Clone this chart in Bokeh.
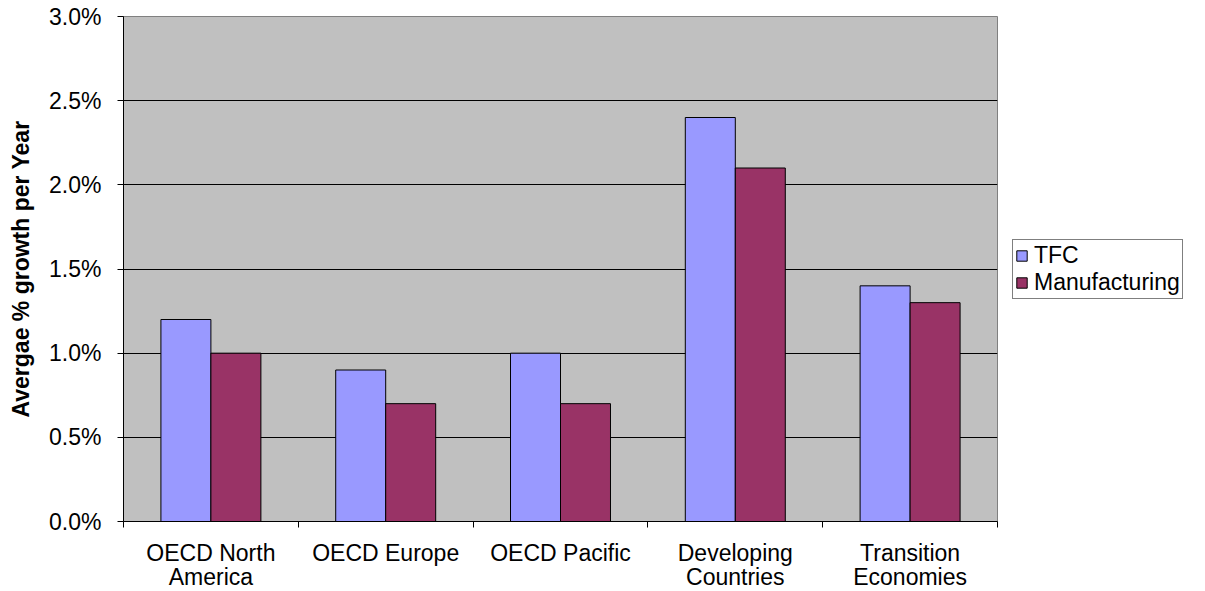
from bokeh.plotting import figure
from bokeh.models import ColumnDataSource, FixedTicker, PrintfTickFormatter, Legend, LegendItem, Range1d
from bokeh.transform import dodge
from bokeh.embed import file_html
from bokeh.resources import INLINE

categories = ["OECD North\nAmerica", "OECD Europe", "OECD Pacific", "Developing\nCountries", "Transition\nEconomies"]
tfc = [1.2, 0.9, 1.0, 2.4, 1.4]
manufacturing = [1.0, 0.7, 0.7, 2.1, 1.3]
y_ticks = [0.0, 0.5, 1.0, 1.5, 2.0, 2.5, 3.0]

FONT = "Liberation Sans"
xpos = [i + 0.5 for i in range(len(categories))]
src = ColumnDataSource(dict(x=xpos, tfc=tfc, man=manufacturing))

p = figure(frame_width=874, frame_height=505, output_backend="svg", toolbar_location=None,
           x_range=Range1d(0, len(categories)), y_range=Range1d(0, 3.0),
           min_border_left=123, min_border_right=208, min_border_top=16, min_border_bottom=70)
p.background_fill_color = "#C0C0C0"
p.border_fill_color = "white"
p.outline_line_color = "#808080"
p.outline_line_width = 1

bw = 0.286
r1 = p.vbar(x=dodge("x", -bw / 2, range=p.x_range), top="tfc", width=bw, source=src,
            fill_color="#9999FF", line_color="black", line_width=1)
r2 = p.vbar(x=dodge("x", bw / 2, range=p.x_range), top="man", width=bw, source=src,
            fill_color="#993366", line_color="black", line_width=1)

# x axis
p.xaxis.ticker = FixedTicker(ticks=xpos, minor_ticks=list(range(len(categories) + 1)))
p.xaxis.major_label_overrides = {x: c for x, c in zip(xpos, categories)}
p.xaxis.major_tick_out = 0
p.xaxis.major_tick_in = 0
p.xaxis.minor_tick_out = 6
p.xaxis.minor_tick_in = 0
p.xaxis.minor_tick_line_color = "black"
p.xaxis.axis_line_color = "black"
p.xaxis.major_label_standoff = 12
p.xaxis.major_label_text_font = FONT
p.xaxis.major_label_text_font_size = "23px"
p.xaxis.major_label_text_line_height = 0.95
p.xaxis.major_label_text_color = "black"
p.xgrid.grid_line_color = None

# y axis
p.yaxis.ticker = FixedTicker(ticks=y_ticks)
p.yaxis.formatter = PrintfTickFormatter(format="%.1f%%")
p.yaxis.major_tick_out = 6
p.yaxis.major_tick_in = 0
p.yaxis.minor_tick_line_color = None
p.yaxis.axis_line_color = "black"
p.yaxis.major_tick_line_color = "black"
p.yaxis.major_label_standoff = 16
p.yaxis.major_label_text_font = FONT
p.yaxis.major_label_text_font_size = "23px"
p.yaxis.major_label_text_color = "black"
p.yaxis.axis_label = "Avergae % growth per Year"
p.yaxis.axis_label_text_font = FONT
p.yaxis.axis_label_text_font_size = "23px"
p.yaxis.axis_label_text_font_style = "bold"
p.yaxis.axis_label_text_color = "black"
p.yaxis.axis_label_standoff = 12
p.ygrid.grid_line_color = "black"
p.ygrid.grid_line_width = 1

legend = Legend(items=[LegendItem(label="TFC", renderers=[r1]),
                       LegendItem(label="Manufacturing", renderers=[r2])],
                location="center_left")
legend.label_text_font = FONT
legend.label_text_font_size = "23px"
legend.label_text_line_height = 0.9
legend.label_text_color = "black"
legend.glyph_width = 13
legend.glyph_height = 13
legend.label_height = 20
legend.label_standoff = 6
legend.spacing = 0
legend.padding = 2
legend.margin = 15
legend.border_line_color = "black"
legend.border_line_width = 1
legend.background_fill_color = "white"
legend.background_fill_alpha = 1
p.add_layout(legend, "right")

open("out.html", "w").write(file_html(p, INLINE))
